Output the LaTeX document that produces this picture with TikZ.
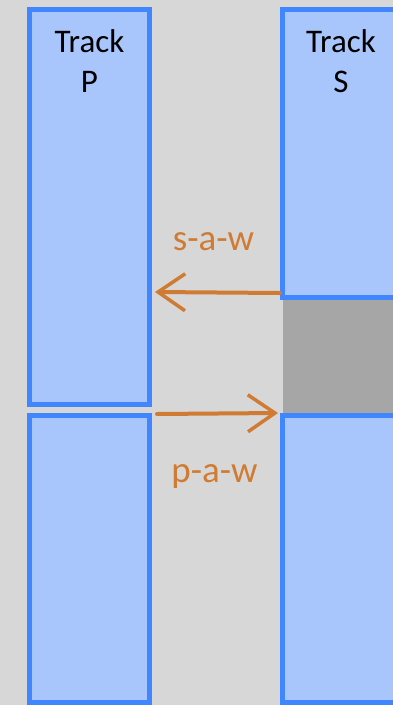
\documentclass[tikz,border=0pt]{standalone}
\usepackage{fontspec}
\setmainfont{Carlito}
\usetikzlibrary{arrows.meta}
\definecolor{bg}{HTML}{D7D7D7}
\definecolor{boxfill}{HTML}{A8C6FC}
\definecolor{boxline}{HTML}{4086FF}
\definecolor{gapgray}{HTML}{A6A6A6}
\definecolor{orng}{HTML}{D07B33}
\tikzset{
  trackbox/.style={rectangle, draw=boxline, fill=boxfill, line width=5pt, inner sep=0pt},
  gapbox/.style={rectangle, fill=gapgray, draw=none, inner sep=0pt},
  title/.style={align=center, inner sep=0pt, font=\fontsize{33}{40}\selectfont},
  lbl/.style={inner sep=0pt, text=orng, font=\fontsize{37}{44}\selectfont, anchor=base},
  handarrow/.style={draw=orng, line width=4pt, line cap=round,
    -{Straight Barb[length=27pt, width=37pt, line width=3.5pt]}}
}
\begin{document}
\begin{tikzpicture}[x=1pt, y=-1pt]
  \fill[bg] (0,0) rectangle (393,705);
  \useasboundingbox (0,0) rectangle (393,705);
  % gap box
  \node[gapbox, minimum width=117.5pt, minimum height=117.5pt] (G) at (341.25,356.25) {};
  % track boxes
  \node[trackbox, minimum width=120pt, minimum height=394.5pt] (P1) at (89.5,206.75) {};
  \node[trackbox, minimum width=120pt, minimum height=287.5pt] (P2) at (89.5,558.75) {};
  \node[trackbox, minimum width=117.5pt, minimum height=288pt] (S1) at (341.25,153.5) {};
  \node[trackbox, minimum width=117.5pt, minimum height=287.5pt] (S2) at (341.25,558.75) {};
  % titles
  \node[title] (tP) at (89.5,61) {Track\\P};
  \node[title] (tS) at (341,61) {Track\\S};
  % labels
  \node[lbl] (saw) at (213.5,250) {s-a-w};
  \node[lbl] (paw) at (214.5,482) {p-a-w};
  % arrows
  \coordinate (a1s) at (280,293);
  \coordinate (a1e) at (155,292);
  \coordinate (a2s) at (157,414);
  \coordinate (a2e) at (278,413);
  \draw[handarrow] (a1s) -- (a1e);
  \draw[handarrow] (a2s) -- (a2e);
\end{tikzpicture}
\end{document}
